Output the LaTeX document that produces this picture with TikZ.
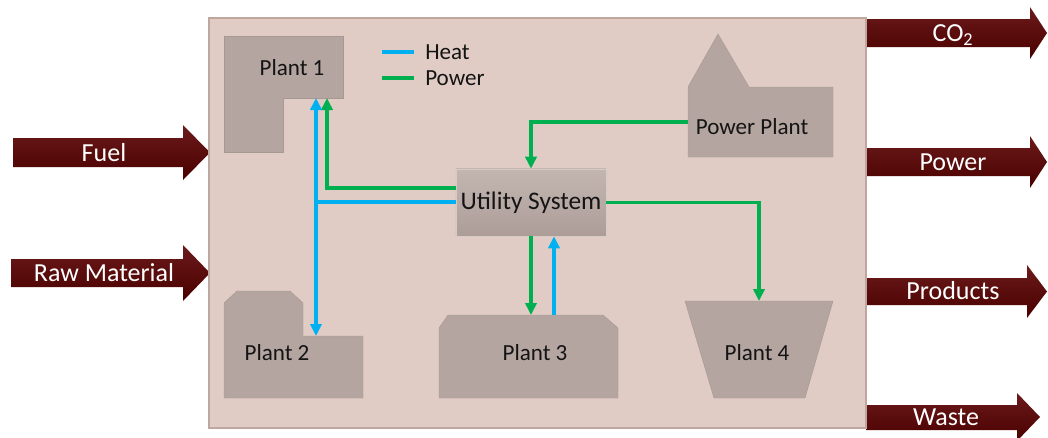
\documentclass[tikz,border=0pt]{standalone}
\usepackage{fontspec}
\setmainfont{Carlito}
\usetikzlibrary{arrows.meta}
\definecolor{siteFill}{HTML}{E0CCC4}
\definecolor{siteEdge}{HTML}{BFA69E}
\definecolor{plantFill}{HTML}{B4A5A0}
\definecolor{utilTop}{HTML}{C3B6B1}
\definecolor{utilBottom}{HTML}{AD9D98}
\definecolor{heatBlue}{HTML}{00B0F0}
\definecolor{powerGreen}{HTML}{00B050}
\definecolor{flowTop}{HTML}{6B1A1A}
\definecolor{flowBottom}{HTML}{4A0000}
\definecolor{textDark}{HTML}{141414}

\begin{document}
\begin{tikzpicture}[
    x=0.025cm, y=-0.025cm,
    site/.style={fill=siteFill, draw=siteEdge, line width=0.8pt},
    plant/.style={fill=plantFill, draw=plantFill!92!black, line width=0.3pt},
    plantText/.style={font=\fontsize{16.4}{19}\selectfont, text=textDark, inner sep=0pt},
    util/.style={rectangle, minimum width=3.6cm, minimum height=1.675cm, top color=utilTop, bottom color=utilBottom, draw=utilTop!70!white, line width=0.4pt, font=\fontsize{18}{21}\selectfont, text=textDark},
    heat/.style={draw=heatBlue, line width=2.6pt},
    power/.style={draw=powerGreen, line width=2.6pt},
    >={Triangle[length=0.3cm, width=0.28cm]},
    flow/.style={top color=flowTop, bottom color=flowBottom},
    flowText/.style={text=white, font=\fontsize{18.5}{22}\selectfont, inner sep=0pt},
]
\clip (0,0) rectangle (1048,437);
\fill[white] (0,0) rectangle (1048,437);
% flows in and out
\shade[flow] (13,138) -- (183,138) -- (183,125) -- (210,152.5) -- (183,180) -- (183,167) -- (13,167) -- cycle;
\shade[flow] (11,259) -- (183,259) -- (183,245) -- (210,273) -- (183,301) -- (183,287) -- (11,287) -- cycle;
\shade[flow] (866,19) -- (1030,19) -- (1030,7) -- (1047,33) -- (1030,59) -- (1030,47) -- (866,47) -- cycle;
\shade[flow] (866,148) -- (1030,148) -- (1030,136) -- (1047,162) -- (1030,188) -- (1030,176) -- (866,176) -- cycle;
\shade[flow] (866,278) -- (1027,278) -- (1027,265) -- (1047,291.5) -- (1027,318) -- (1027,305) -- (866,305) -- cycle;
\shade[flow] (866,405) -- (1017,405) -- (1017,393) -- (1040,417) -- (1017,441) -- (1017,430) -- (866,430) -- cycle;
\node[flowText] (fuel)     at (104,152.5) {Fuel};
\node[flowText] (raw)      at (104,273)   {Raw Material};
\node[flowText] (co2)      at (953,35)    {CO\textsubscript{2}};
\node[flowText] (powerOut) at (953,162)   {Power};
\node[flowText] (products) at (953,291)   {Products};
\node[flowText] (waste)    at (946,417)   {Waste};
% site
\draw[site] (209,18) rectangle (866,428);
% plants
\fill[plant] (224,36) -- (343,36) -- (343,98) -- (283,98) -- (283,152) -- (224,152) -- cycle;
\fill[plant] (224,303) -- (237,291) -- (290,291) -- (303,303) -- (303,336) -- (363,336) -- (363,398) -- (224,398) -- cycle;
\fill[plant] (448,315) -- (603,315) -- (618,328) -- (618,398) -- (439,398) -- (439,328) -- cycle;
\fill[plant] (685,301) -- (833,301) -- (805,398) -- (714,398) -- cycle;
\fill[plant] (688,87) -- (718,34) -- (749,87) -- (833,87) -- (833,157) -- (688,157) -- cycle;
\node[plantText] (plant1) at (292,68)  {Plant 1};
\node[plantText] (plant2) at (277,353) {Plant 2};
\node[plantText] (plant3) at (535,353) {Plant 3};
\node[plantText] (plant4) at (757,353) {Plant 4};
\node[plantText] (pplant) at (752,127) {Power Plant};
\node[util] (util) at (531,202.5) {Utility System};
% ports
\coordinate (p1Power) at (327,98);
\coordinate (p1Heat)  at (316,98);
\coordinate (p2Heat)  at (316,336);
\coordinate (p3Power) at (531,315);
\coordinate (p3Heat)  at (554,315);
\coordinate (p4Power) at (759,301);
\coordinate (ppPower) at (688,122);
% connectors
\draw[power, ->] (ppPower) -| (util.north);
\draw[power, ->] (util.west |- 0,188) -| (p1Power);
\draw[heat, <->] (p2Heat) -- (p1Heat);
\draw[heat] (util.west |- 0,202) -- (p1Heat |- 0,202);
\draw[power, ->] (util.east) -| (p4Power);
\draw[power, ->] (util.south) -- (p3Power);
\draw[heat, ->] (p3Heat) -- (util.south -| p3Heat);
% legend
\node[plantText, anchor=west] (heatKey)  at (425,52) {Heat};
\node[plantText, anchor=west] (powerKey) at (425,78) {Power};
\draw[heat]  (382,52) -- (414,52);
\draw[power] (382,78) -- (414,78);
\end{tikzpicture}
\end{document}
